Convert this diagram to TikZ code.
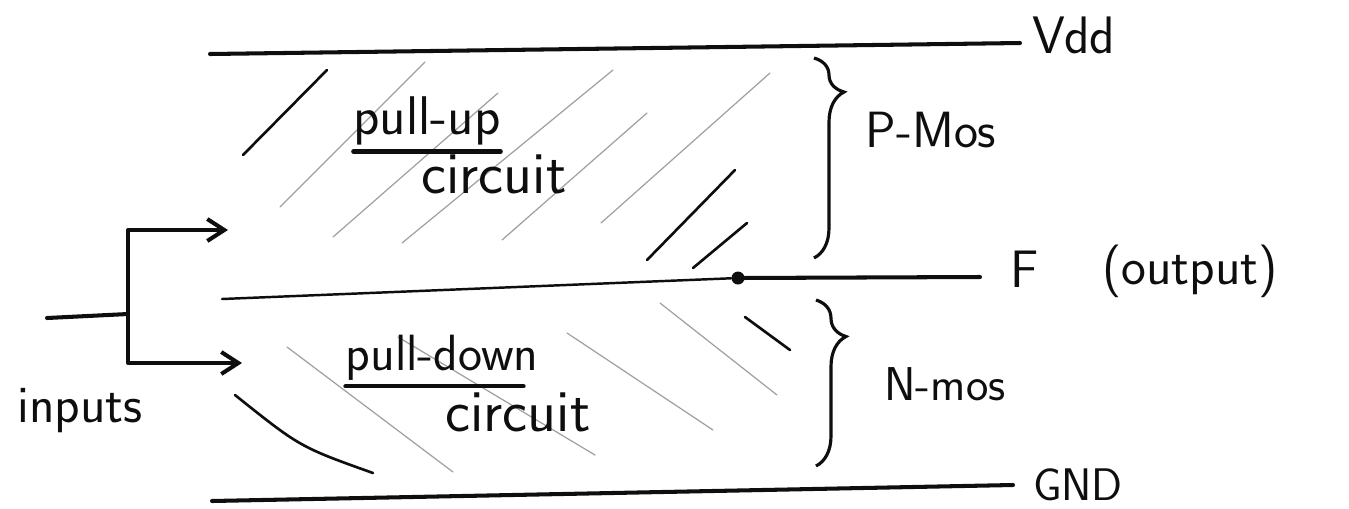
\documentclass[tikz,border=0pt]{standalone}
\usetikzlibrary{arrows.meta,decorations.pathreplacing}
\definecolor{ink}{RGB}{14,14,14}
\definecolor{pencil}{RGB}{160,160,160}
\tikzset{
  rail/.style={line width=2.3pt, draw=ink, line cap=round},
  thinrail/.style={line width=1.4pt, draw=ink, line cap=round},
  arr/.style={rail, line join=round, -{Straight Barb[length=3.4mm, width=4.4mm]}},
  hatch/.style={line width=0.7pt, draw=pencil, line cap=round},
  stroke/.style={line width=1.5pt, draw=ink, line cap=round},
  brc/.style={line width=1.8pt, draw=ink, decorate},
  dot/.style={circle, fill=ink, inner sep=0pt, minimum size=2.6mm},
  lbl/.style={font=\sffamily\fontsize{30}{36}\selectfont, text=ink, inner sep=0pt, anchor=base},
  lblbig/.style={lbl, font=\sffamily\fontsize{34}{40}\selectfont},
  lblsmall/.style={lbl, font=\sffamily\fontsize{26}{31}\selectfont},
}

\begin{document}
\begin{tikzpicture}[x=0.2mm, y=-0.2mm]
  \useasboundingbox (0,0) rectangle (1349,508);

  % hatching: pull-up half
  \foreach \xa/\ya/\xb/\yb in {280/207/425/62, 333/237/498/93, 402/243/613/70,
                               502/240/647/113, 601/223/770/73}
    \draw[hatch] (\xa,\ya) -- (\xb,\yb);
  \foreach \xa/\ya/\xb/\yb in {243/155/327/70, 647/260/735/170, 693/268/747/223}
    \draw[stroke] (\xa,\ya) -- (\xb,\yb);

  % hatching: pull-down half
  \foreach \xa/\ya/\xb/\yb in {287/347/453/472, 398/337/595/455,
                               567/333/713/430, 660/303/777/395}
    \draw[hatch] (\xa,\ya) -- (\xb,\yb);
  \draw[stroke] (235,395) .. controls (300,447) .. (373,473);
  \draw[stroke] (745,317) -- (790,350);

  % supply rails and output
  \coordinate (vddL) at (210,54);
  \coordinate (vddR) at (1020,43);
  \coordinate (gndL) at (212,501);
  \coordinate (gndR) at (1013,485);
  \coordinate (midL) at (222,299);
  \coordinate (fR)   at (980,277);
  \node[dot] (out) at (738,278) {};

  \draw[rail] (vddL) -- (vddR);
  \draw[rail] (gndL) -- (gndR);
  \draw[thinrail] (midL) -- (out);
  \draw[rail] (out) -- (fR);

  \node[lbl] (vdd) at (1074,53) {Vdd};
  \node[lbl] (fout) at (1025,287) {F};
  \node[lbl] (outp) at (1190,284) {(output)};
  \node[lblsmall] (gnd) at (1078,500) {GND};

  % braces
  \coordinate (pTop) at (814,58);
  \coordinate (pBot) at (814,258);
  \coordinate (nTop) at (816,300);
  \coordinate (nBot) at (816,466);
  \draw[brc, decoration={brace, amplitude=0.6cm, aspect=0.17}] (pTop) -- (pBot);
  \draw[brc, decoration={brace, amplitude=0.6cm, aspect=0.22}] (nTop) -- (nBot);
  \node[lbl, font=\sffamily\fontsize{29}{34}\selectfont] (pmos) at (931,147) {P-Mos};
  \node[lbl, font=\sffamily\fontsize{27}{32}\selectfont] (nmos) at (945,400) {N-mos};

  % network names
  \node[lbl, font=\sffamily\fontsize{31}{37}\selectfont] (pullup) at (427,134) {pull-up};
  \node[lblbig] (circup) at (494,193) {circuit};
  \node[lbl, font=\sffamily\fontsize{29}{34}\selectfont] (pulldn) at (442,370) {pull-down};
  \node[lblbig] (circdn) at (518,431) {circuit};
  \draw[rail] ([yshift=-1.3mm]pullup.south west) -- ([yshift=-1.3mm]pullup.south east);
  \draw[rail] ([yshift=-1.2mm]pulldn.south west) -- ([yshift=-1.2mm, xshift=-3mm]pulldn.south east);

  % inputs
  \coordinate (inL)  at (47,318);
  \coordinate (fork) at (128,314);
  \coordinate (upIn) at (228,230);
  \coordinate (dnIn) at (242,363);
  \draw[rail] (inL) -- (fork);
  \draw[arr] (fork) |- (upIn);
  \draw[arr] (fork) |- (dnIn);
  \node[lbl] (inputs) at (80,422) {inputs};
\end{tikzpicture}
\end{document}
